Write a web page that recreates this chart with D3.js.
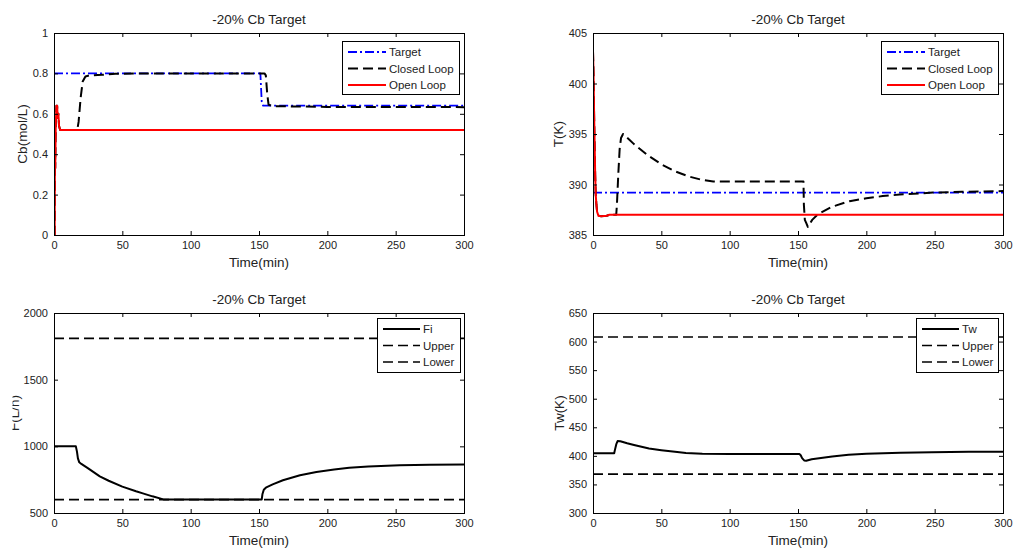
<!DOCTYPE html>
<html>
<head>
<meta charset="utf-8">
<script src="https://cdn.jsdelivr.net/npm/d3@7"></script>
<style>
  html, body { margin: 0; padding: 0; background: #fff; }
  svg { display: block; }
  text { font-family: "Liberation Sans", Arial, Helvetica, sans-serif; }
</style>
</head>
<body>
<svg id="fig" width="1013" height="550"></svg>
<script>
// ---- shared labels and ticks ----
const titleText = "-20% Cb Target";
const timeLabel = "Time(min)";
const timeTicks = [0, 50, 100, 150, 200, 250, 300];
const cbTicks = [0, 0.2, 0.4, 0.6, 0.8, 1];
const tTicks = [385, 390, 395, 400, 405];
const fTicks = [500, 1000, 1500, 2000];
const twTicks = [300, 350, 400, 450, 500, 550, 600, 650];

// ---- Cb (mol/L): [time, value] ----
const cbTarget = [[0, 0.8], [151, 0.8], [152, 0.66], [153, 0.64], [300, 0.64]];
const cbOpen = [[0, 0], [0.5, 0], [0.7, 0.47], [0.9, 0.33], [1.3, 0.55], [1.8, 0.64],
  [2.3, 0.64], [2.7, 0.58], [3.2, 0.6], [3.7, 0.54], [4.5, 0.52], [300, 0.52]];
const cbClosed = [[0, 0], [0.5, 0], [0.7, 0.47], [0.9, 0.33], [1.3, 0.55], [1.8, 0.64],
  [2.3, 0.64], [2.7, 0.58], [3.2, 0.6], [3.7, 0.54], [4.5, 0.52], [17, 0.52],
  [18, 0.56], [19.5, 0.68], [21, 0.76], [23, 0.785], [26, 0.79], [35, 0.793],
  [45, 0.798], [60, 0.8], [154, 0.8], [155, 0.79], [156, 0.7], [157, 0.645],
  [160, 0.638], [200, 0.634], [300, 0.633]];

// ---- Reactor temperature T (K) ----
const tTarget = [[0, 389.2], [300, 389.2]];
const tOpen = [[0, 403.2], [0.4, 401], [0.8, 397], [1.2, 394], [1.6, 391], [2, 389],
  [2.5, 388], [3, 387.3], [4, 386.9], [6, 386.85], [10, 386.9], [12, 387], [300, 387]];
const tClosed = [[0, 403.2], [0.4, 401], [0.8, 397], [1.2, 394], [1.6, 391], [2, 389],
  [2.5, 388], [3, 387.3], [4, 386.9], [6, 386.85], [10, 386.9], [12, 387], [17, 387],
  [17.5, 388], [18.5, 391], [19.5, 393.5], [20.5, 394.6], [22, 395], [23, 394.9],
  [30, 394], [40, 392.9], [50, 392], [60, 391.3], [70, 390.8], [80, 390.45],
  [88, 390.3], [154, 390.3], [154.3, 388], [155, 386.5], [156, 386.2], [157.2, 385.8],
  [160.4, 386.5], [164.5, 387.05], [175, 387.8], [187.7, 388.35], [200, 388.64],
  [212, 388.85], [224.3, 389.0], [248.6, 389.2], [270, 389.28], [300, 389.35]];

// ---- Feed flow F (L/h) ----
const fUpper = [[0, 1810], [300, 1810]];
const fLower = [[0, 600], [300, 600]];
const fFlow = [[0, 1000], [16, 1000], [16.8, 960], [17.5, 910], [18.5, 880], [20, 868],
  [25, 835], [33.5, 775], [40, 742], [50, 698], [60, 663], [65, 647], [72, 625],
  [80, 602], [152, 602], [152.5, 640], [153.5, 675], [155, 690], [160, 715],
  [167.5, 746], [180, 783], [192, 808], [205, 826], [216, 840], [230, 849],
  [253, 859], [275, 862], [300, 864]];

// ---- Jacket temperature Tw (K) ----
const twUpper = [[0, 608], [300, 608]];
const twLower = [[0, 368], [300, 368]];
const twTemp = [[0, 404.5], [15.5, 404.5], [16, 410], [17, 420], [18, 426], [20, 425.5],
  [25, 422], [30, 419], [41, 413], [50, 410], [60, 407], [68, 405], [80, 403.5],
  [100, 403.2], [151, 403.2], [152, 401], [153, 396], [154.5, 392], [156, 391.5],
  [160, 394], [175, 399], [187, 401.8], [200, 403.8], [225, 405.5], [248, 406.5],
  [275, 407], [300, 407]];

// ---- styles ----
const BLUE = "#0000ff", RED = "#ff0000", BLACK = "#000000";
const DASH = "10,5";
const DASHDOT = "9,3,2,3";
const FONT = "\"Liberation Sans\", Arial, Helvetica, sans-serif";

const panels = [
  {
    id: "cb", x0: 54, x1: 464, y0: 33, y1: 235,
    yDomain: [0, 1], yTicks: cbTicks, ylabel: "Cb(mol/L)", ylabelX: 27,
    series: [
      { data: cbTarget, color: BLUE, dash: DASHDOT, width: 1.8, label: "Target" },
      { data: cbClosed, color: BLACK, dash: DASH, width: 2, label: "Closed Loop" },
      { data: cbOpen, color: RED, dash: null, width: 2, label: "Open Loop" }
    ],
    legend: { x0: 342, x1: 459, y0: 41, y1: 94, lineX0: 348, lineX1: 386, textX: 389 }
  },
  {
    id: "t", x0: 593, x1: 1003, y0: 33, y1: 235,
    yDomain: [385, 405], yTicks: tTicks, ylabel: "T(K)", ylabelX: 563,
    series: [
      { data: tTarget, color: BLUE, dash: DASHDOT, width: 1.8, label: "Target" },
      { data: tClosed, color: BLACK, dash: DASH, width: 2, label: "Closed Loop" },
      { data: tOpen, color: RED, dash: null, width: 2, label: "Open Loop" }
    ],
    legend: { x0: 881, x1: 998, y0: 41, y1: 94, lineX0: 887, lineX1: 925, textX: 928 }
  },
  {
    id: "f", x0: 54, x1: 464, y0: 313, y1: 513,
    yDomain: [500, 2000], yTicks: fTicks, ylabel: "F(L/h)", ylabelX: 18.5, ylabelClip: 12.5,
    series: [
      { data: fFlow, color: BLACK, dash: null, width: 2, label: "Fi" },
      { data: fUpper, color: BLACK, dash: DASH, width: 1.6, label: "Upper" },
      { data: fLower, color: BLACK, dash: DASH, width: 1.6, label: "Lower" }
    ],
    legend: { x0: 377, x1: 460, y0: 318, y1: 372, lineX0: 383, lineX1: 420, textX: 423 }
  },
  {
    id: "tw", x0: 593, x1: 1003, y0: 313, y1: 513,
    yDomain: [300, 650], yTicks: twTicks, ylabel: "Tw(K)", ylabelX: 564,
    series: [
      { data: twTemp, color: BLACK, dash: null, width: 2, label: "Tw" },
      { data: twUpper, color: BLACK, dash: DASH, width: 1.6, label: "Upper" },
      { data: twLower, color: BLACK, dash: DASH, width: 1.6, label: "Lower" }
    ],
    legend: { x0: 916, x1: 998, y0: 318, y1: 372, lineX0: 922, lineX1: 959, textX: 962 }
  }
];

const fig = d3.select("#fig");
const defs = fig.append("defs");
const TICK = 4;

function styleAxis(sel) {
  sel.select(".domain").remove();
  sel.attr("font-size", 11).attr("font-family", FONT);
  sel.selectAll(".tick line").attr("stroke", "#000");
  sel.selectAll(".tick text").attr("fill", "#222");
}

function drawPanel(p) {
  const g = fig.append("g").attr("class", "panel-" + p.id);
  const x = d3.scaleLinear().domain([0, 300]).range([p.x0, p.x1]);
  const y = d3.scaleLinear().domain(p.yDomain).range([p.y1, p.y0]);

  defs.append("clipPath").attr("id", "clip-" + p.id)
    .append("rect")
    .attr("x", p.x0).attr("y", p.y0)
    .attr("width", p.x1 - p.x0 + 1).attr("height", p.y1 - p.y0 + 1);

  // curves
  const line = d3.line().x(d => x(d[0])).y(d => y(d[1]));
  const lines = g.append("g").attr("clip-path", "url(#clip-" + p.id + ")");
  p.series.forEach(s => {
    lines.append("path")
      .datum(s.data)
      .attr("d", line)
      .attr("fill", "none")
      .attr("stroke", s.color)
      .attr("stroke-width", s.width)
      .attr("stroke-dasharray", s.dash)
      .attr("stroke-linejoin", "round");
  });

  // axes, ticks pointing inward on all four sides
  g.append("g").attr("transform", `translate(0,${p.y1})`)
    .call(d3.axisBottom(x).tickValues(timeTicks).tickSizeInner(-TICK).tickSizeOuter(0)
      .tickPadding(6).tickFormat(d3.format("d")))
    .call(styleAxis);
  g.append("g").attr("transform", `translate(0,${p.y0})`)
    .call(d3.axisTop(x).tickValues(timeTicks).tickSizeInner(-TICK).tickSizeOuter(0).tickFormat(""))
    .call(styleAxis);
  g.append("g").attr("transform", `translate(${p.x0},0)`)
    .call(d3.axisLeft(y).tickValues(p.yTicks).tickSizeInner(-TICK).tickSizeOuter(0)
      .tickPadding(6).tickFormat(d => String(d)))
    .call(styleAxis);
  g.append("g").attr("transform", `translate(${p.x1},0)`)
    .call(d3.axisRight(y).tickValues(p.yTicks).tickSizeInner(-TICK).tickSizeOuter(0).tickFormat(""))
    .call(styleAxis);

  // axes box
  g.append("rect")
    .attr("x", p.x0 + 0.5).attr("y", p.y0 + 0.5)
    .attr("width", p.x1 - p.x0).attr("height", p.y1 - p.y0)
    .attr("fill", "none").attr("stroke", "#000").attr("stroke-width", 1);

  // title
  g.append("text")
    .attr("x", (p.x0 + p.x1) / 2).attr("y", p.y0 - 9)
    .attr("text-anchor", "middle")
    .attr("font-size", 13.5).attr("fill", "#222")
    .text(titleText);

  // x label
  g.append("text")
    .attr("x", (p.x0 + p.x1) / 2).attr("y", p.y1 + 31.5)
    .attr("text-anchor", "middle")
    .attr("font-size", 13.5).attr("fill", "#222")
    .text(timeLabel);

  // y label (may be cut at the figure's left edge)
  const yl = g.append("g");
  if (p.ylabelClip !== undefined) {
    defs.append("clipPath").attr("id", "ylclip-" + p.id)
      .append("rect").attr("x", p.ylabelClip).attr("y", p.y0)
      .attr("width", 30).attr("height", p.y1 - p.y0);
    yl.attr("clip-path", "url(#ylclip-" + p.id + ")");
  }
  yl.append("text")
    .attr("transform", `translate(${p.ylabelX},${(p.y0 + p.y1) / 2}) rotate(-90)`)
    .attr("text-anchor", "middle")
    .attr("font-size", 13.5).attr("fill", "#222")
    .text(p.ylabel);

  // legend
  const L = p.legend;
  const lg = g.append("g");
  lg.append("rect")
    .attr("x", L.x0 + 0.5).attr("y", L.y0 + 0.5)
    .attr("width", L.x1 - L.x0).attr("height", L.y1 - L.y0)
    .attr("fill", "#fff").attr("stroke", "#000").attr("stroke-width", 1);
  const rowY = [11, 27.5, 44];
  p.series.forEach((s, i) => {
    const yy = L.y0 + rowY[i];
    lg.append("line")
      .attr("x1", L.lineX0).attr("x2", L.lineX1)
      .attr("y1", yy).attr("y2", yy)
      .attr("stroke", s.color).attr("stroke-width", s.width)
      .attr("stroke-dasharray", s.dash);
    lg.append("text")
      .attr("x", L.textX).attr("y", yy + 4)
      .attr("font-size", 11.5).attr("fill", "#222")
      .text(s.label);
  });
}

panels.forEach(drawPanel);
</script>
</body>
</html>
